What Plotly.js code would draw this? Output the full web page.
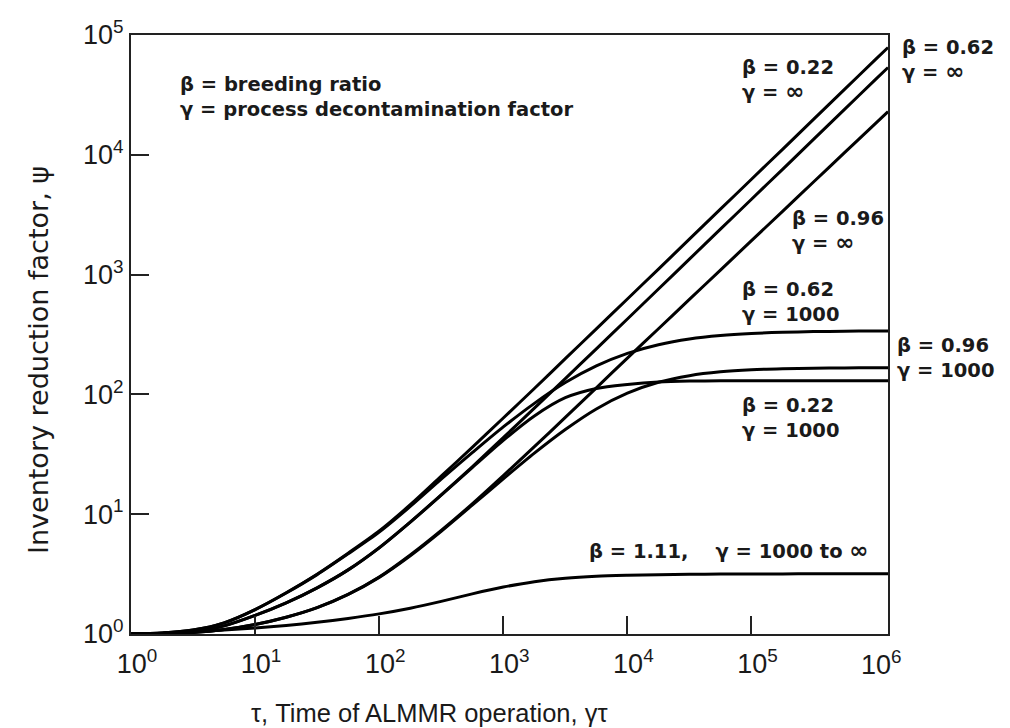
<!DOCTYPE html>
<html>
<head>
<meta charset="utf-8">
<script src="https://cdn.plot.ly/plotly-3.0.1.min.js"></script>
<style>
html,body{margin:0;padding:0;background:#fff;}
#chart{width:1010px;height:728px;}
</style>
</head>
<body>
<div id="chart"></div>
<script>
// Time of ALMMR operation, gamma*tau
const tau = [1, 1.78, 3.16, 5.62, 10, 17.8, 31.6, 56.2, 100, 178, 316, 562, 1000, 1780, 3160, 5620,
  1e4, 1.78e4, 3.16e4, 5.62e4, 1e5, 1.78e5, 3.16e5, 5.62e5, 1e6, 1.26e6];

// Inventory reduction factor psi
const psi_b062_inf = [1, 1.02, 1.08, 1.24, 1.6, 2.21, 3.16, 4.73, 7.24, 12.0, 20.8, 36.1, 63.5, 112, 199, 352,
  626, 1112, 1977, 3516, 6251, 11115, 19765, 35147, 62501, 78700];
const psi_b022_inf = [1, 1.01, 1.05, 1.17, 1.43, 1.82, 2.43, 3.43, 5.25, 8.6, 14.5, 24.9, 43.6, 76.7, 135.6, 240,
  426, 758, 1346, 2394, 4256, 7568, 13458, 23931, 42554, 53580];
const psi_b096_inf = [1, 1.01, 1.03, 1.09, 1.2, 1.38, 1.66, 2.14, 2.99, 4.57, 7.32, 12.2, 21, 36.6, 64.2, 113.5,
  201, 353, 621, 1091, 1919, 3373, 5929, 10420, 18320, 22960];
const psi_b062_1000 = [1, 1.02, 1.08, 1.24, 1.6, 2.2, 3.13, 4.67, 7.09, 11.6, 19.6, 32.6, 53.5, 84.2, 125.5, 173,
  220, 260, 290, 310, 322.5, 330, 334.3, 336.7, 338.2, 338.5];
const psi_b022_1000 = [1, 1.01, 1.05, 1.17, 1.43, 1.82, 2.43, 3.43, 5.24, 8.58, 14.4, 24.45, 41.3, 66.05, 93.8, 112,
  121, 127, 129.3, 129.8, 130, 130, 130, 130, 130, 130];
const psi_b096_1000 = [1, 1.01, 1.03, 1.09, 1.2, 1.38, 1.66, 2.14, 2.97, 4.5, 7.2, 11.9, 19.7, 32.3, 50.9, 75.6,
  102.4, 126.2, 143.4, 154.3, 160.5, 163.7, 165.4, 166.3, 166.7, 166.8];
const psi_b111 = [1, 1.014, 1.042, 1.079, 1.122, 1.18, 1.253, 1.349, 1.472, 1.641, 1.871, 2.163, 2.466, 2.735, 2.924, 3.034,
  3.09, 3.126, 3.148, 3.162, 3.17, 3.175, 3.18, 3.185, 3.19, 3.19];

const seriesNames = ["β = 0.62, γ = ∞", "β = 0.22, γ = ∞", "β = 0.96, γ = ∞",
  "β = 0.62, γ = 1000", "β = 0.22, γ = 1000", "β = 0.96, γ = 1000", "β = 1.11, γ = 1000 to ∞"];
const seriesValues = [psi_b062_inf, psi_b022_inf, psi_b096_inf, psi_b062_1000, psi_b022_1000, psi_b096_1000, psi_b111];

// Tick labels
const xTickVals = [1, 10, 100, 1000, 1e4, 1e5];
const xTickText = ["10<sup>0</sup>", "10<sup>1</sup>", "10<sup>2</sup>", "10<sup>3</sup>", "10<sup>4</sup>", "10<sup>5</sup>"];
const xLastTickText = "10<sup>6</sup>";
const yTickVals = [1, 10, 100, 1000, 1e4, 1e5];
const yTickText = ["10<sup>0</sup>", "10<sup>1</sup>", "10<sup>2</sup>", "10<sup>3</sup>", "10<sup>4</sup>", "10<sup>5</sup>"];

// Texts
const INF = '<span style="font-size:23px">∞</span>';
const xTitle = "τ, Time of ALMMR operation, γτ";
const yTitle = "Inventory reduction factor, ψ";
const noteText = "β = breeding ratio<br>γ = process decontamination factor";
const curveLabels = [
  "β = 0.22<br>γ = " + INF,
  "β = 0.62<br>γ = " + INF,
  "β = 0.96<br>γ = " + INF,
  "β = 0.62<br>γ = 1000",
  "β = 0.96<br>γ = 1000",
  "β = 0.22<br>γ = 1000",
  "β = 1.11,    γ = 1000 to " + INF
];

// ---------- layout geometry (pixels) ----------
const W = 1010, H = 728;
const M = {l: 131, r: 122, t: 35, b: 94};
const pw = W - M.l - M.r, ph = H - M.t - M.b;
const px2p = px => (px - M.l) / pw;
const py2p = py => (H - M.b - py) / ph;

const FONT = "Liberation Sans, Arial, Helvetica, sans-serif";
const LFONT = "DejaVu Sans, Liberation Sans, Arial, sans-serif";
const INK = "#1a1a1a";

const traces = seriesValues.map((vals, i) => ({
  x: tau, y: vals, name: seriesNames[i], type: "scatter", mode: "lines",
  line: {color: "#000", width: 3, shape: "spline", smoothing: 0.8},
  hoverinfo: "name+x+y"
}));

// left edge x, vertical centre y of each label block (pixels)
const labelPos = [
  [740, 80], [900, 60], [790, 231], [740, 302], [895, 358], [740, 418], [587, 550]
];
const notePos = [178, 97];

const labelFont = {family: LFONT, size: 19.5, color: INK, weight: "bold"};
const annotations = [];
annotations.push({
  text: noteText, xref: "paper", yref: "paper", x: px2p(notePos[0]), y: py2p(notePos[1]),
  xanchor: "left", yanchor: "middle", align: "left", showarrow: false, font: labelFont
});
curveLabels.forEach((t, i) => annotations.push({
  text: t, xref: "paper", yref: "paper", x: px2p(labelPos[i][0]), y: py2p(labelPos[i][1]),
  xanchor: "left", yanchor: "middle", align: "left", showarrow: false, font: labelFont
}));
// axis titles
annotations.push({
  text: yTitle, xref: "paper", yref: "paper", x: px2p(38), y: py2p(360), textangle: -90,
  xanchor: "center", yanchor: "middle", showarrow: false, font: {family: LFONT, size: 27, color: INK}
});
annotations.push({
  text: xTitle, xref: "paper", yref: "paper", x: px2p(429), y: py2p(713),
  xanchor: "center", yanchor: "middle", showarrow: false, font: {family: FONT, size: 25.5, color: INK}
});
// last x tick label (frame ends here, no tick mark)
annotations.push({
  text: xLastTickText, xref: "x", yref: "paper", x: 6, y: py2p(663), xshift: 6,
  xanchor: "center", yanchor: "middle", showarrow: false, font: {family: FONT, size: 27, color: INK}
});

const layout = {
  width: W, height: H,
  margin: M,
  paper_bgcolor: "#fff", plot_bgcolor: "#fff",
  showlegend: false,
  font: {family: FONT, size: 27, color: INK},
  xaxis: {
    type: "log", range: [0, 6.1], showgrid: false, zeroline: false,
    tickmode: "array", tickvals: xTickVals, ticktext: xTickText,
    ticks: "inside", ticklen: 18, tickwidth: 2, tickcolor: "#222",
    showline: true, linewidth: 2, linecolor: "#222", mirror: true,
    ticklabelstandoff: 5, ticklabelshift: 6,
    tickfont: {family: FONT, size: 27, color: INK}
  },
  yaxis: {
    type: "log", range: [0, 5], showgrid: false, zeroline: false,
    tickmode: "array", tickvals: yTickVals, ticktext: yTickText,
    ticks: "inside", ticklen: 18, tickwidth: 2, tickcolor: "#222",
    showline: true, linewidth: 2, linecolor: "#222", mirror: true,
    ticklabelstandoff: 0,
    tickfont: {family: FONT, size: 27, color: INK}
  },
  annotations: annotations
};

Plotly.newPlot("chart", traces, layout, {displayModeBar: false, staticPlot: true});
</script>
</body>
</html>
